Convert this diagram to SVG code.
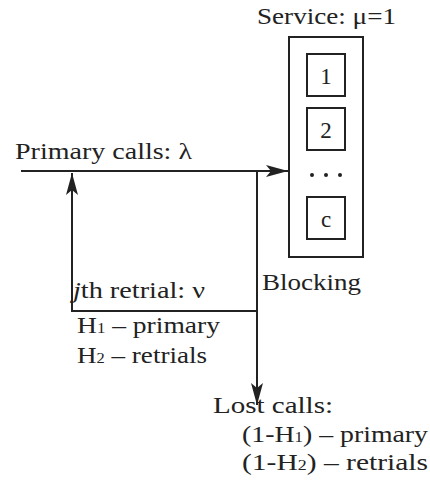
<svg xmlns="http://www.w3.org/2000/svg" width="430" height="486" viewBox="0 0 430 486">
<style>
text{font-family:"Liberation Serif","Times New Roman",serif;font-size:23px;fill:#222}
.sub{font-size:14px}
.box{fill:none;stroke:#222;stroke-width:2}
.ln{fill:none;stroke:#222;stroke-width:2}
</style>
<defs>
<marker id="ah" markerUnits="userSpaceOnUse" markerWidth="24" markerHeight="14" refX="22" refY="6" orient="auto">
<path d="M0,0 L22,6 L0,12 L5,6 Z" fill="#222"/>
</marker>
</defs>
<rect width="430" height="486" fill="#fff"/>
<g id="server">
<rect class="box" x="289" y="37" width="74" height="220"/>
<text x="257" y="24" textLength="139" lengthAdjust="spacingAndGlyphs">Service: μ=1</text>
</g>
<g id="ch1"><rect class="box" x="307" y="54" width="38" height="42"/><text x="326" y="84" text-anchor="middle" font-size="25">1</text></g>
<g id="ch2"><rect class="box" x="307" y="108" width="38" height="42"/><text x="326" y="138" text-anchor="middle" font-size="25">2</text></g>
<g id="dots"><circle cx="312" cy="175" r="2" fill="#222"/><circle cx="326" cy="175" r="2" fill="#222"/><circle cx="340" cy="175" r="2" fill="#222"/></g>
<g id="chc"><rect class="box" x="307" y="197" width="38" height="42"/><text x="326" y="227" text-anchor="middle" font-size="25">c</text></g>
<g id="connectors">
<path class="ln" d="M21 171 H288" marker-end="url(#ah)"/>
<path class="ln" d="M257 171 V405" marker-end="url(#ah)"/>
<path class="ln" d="M257 311 H72 V173" marker-end="url(#ah)"/>
</g>
<g id="labels">
<text x="15" y="159" textLength="177" lengthAdjust="spacingAndGlyphs">Primary calls: λ</text>
<text x="262" y="290" textLength="99" lengthAdjust="spacingAndGlyphs">Blocking</text>
<text x="73" y="298" textLength="132" lengthAdjust="spacingAndGlyphs"><tspan font-style="italic">j</tspan>th retrial: ν</text>
<text x="77" y="333" textLength="143" lengthAdjust="spacingAndGlyphs">H<tspan class="sub">1</tspan> – primary</text>
<text x="77" y="363" textLength="130" lengthAdjust="spacingAndGlyphs">H<tspan class="sub">2</tspan> – retrials</text>
<text x="213" y="413" textLength="120" lengthAdjust="spacingAndGlyphs">Lost calls:</text>
<text x="242" y="442" textLength="186" lengthAdjust="spacingAndGlyphs">(1-H<tspan class="sub">1</tspan>) – primary</text>
<text x="242" y="470" textLength="186" lengthAdjust="spacingAndGlyphs">(1-H<tspan class="sub">2</tspan>) – retrials</text>
</g>
</svg>
